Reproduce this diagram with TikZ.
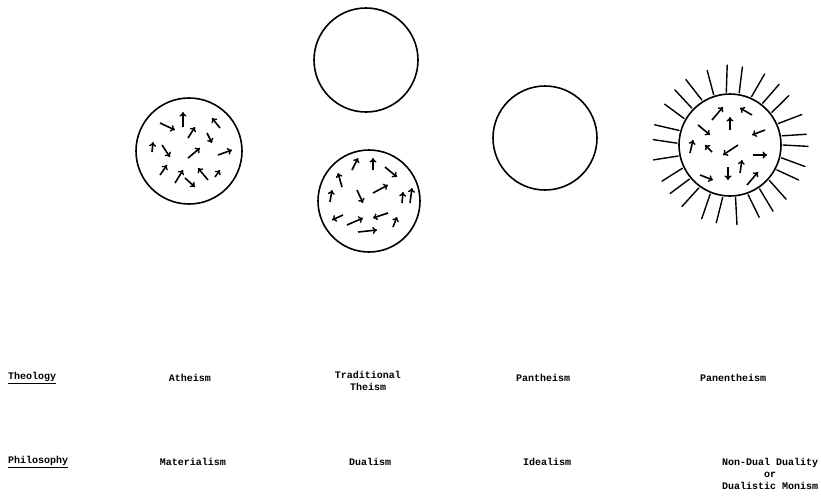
\documentclass[tikz,border=0pt]{standalone}
\usepackage{fontspec}
\setmonofont{Liberation Mono}
\usetikzlibrary{arrows.meta,calc}
\begin{document}
\begin{tikzpicture}[x=1pt,y=-1pt,
  ring/.style={draw=black,line width=1.6pt},
  arr/.style={line width=1.6pt,-{To[length=4.5pt,width=7pt,line width=1.4pt]}},
  ray/.style={line width=1.4pt,line cap=round},
  lbl/.style={font=\ttfamily\bfseries\fontsize{10}{12}\selectfont,align=center,inner sep=0pt},
  head/.style={lbl,anchor=west}]
\useasboundingbox (0,0) rectangle (821,499);
% circles
\node[ring,circle,minimum size=106pt,inner sep=0pt] (ath) at (189,151) {};
\node[ring,circle,minimum size=104pt,inner sep=0pt] (trtop) at (366,60) {};
\node[ring,circle,minimum size=102pt,inner sep=0pt] (trbot) at (369,201) {};
\node[ring,circle,minimum size=104pt,inner sep=0pt] (pan) at (545,138) {};
\node[ring,circle,minimum size=102pt,inner sep=0pt] (panen) at (730,145) {};
% atheism arrows
\foreach \a/\b/\c/\d in {160/123/175/130, 183/127/183/112, 220/128/212/118, 188/138/195/127,
  207/133/212/143, 152/152/153/142, 162/145/170/157, 188/158/200/148, 218/155/232/150,
  160/175/167/165, 175/183/183/170, 185/178/195/187, 208/180/198/168, 215/177/220/170}
  \draw[arr] (\a,\b) -- (\c,\d);
% dualism arrows
\foreach \a/\b/\c/\d in {352/170/358/158, 373/170/373/158, 385/167/397/177, 342/187/338/173,
  330/202/332/190, 357/190/363/203, 373/193/388/185, 402/203/403/192, 410/203/412/188,
  343/215/332/220, 347/225/363/218, 388/213/373/218, 358/232/377/230, 393/227/397/217}
  \draw[arr] (\a,\b) -- (\c,\d);
% panentheism arrows
\foreach \a/\b/\c/\d in {712/120/723/107, 730/130/730/117, 752/115/740/108, 698/125/710/135,
  765/130/752/135, 690/153/693/140, 712/152/705/145, 738/145/723/155, 753/155/767/155,
  700/175/713/180, 728/167/728/180, 740/173/742/160, 747/185/758/172}
  \draw[arr] (\a,\b) -- (\c,\d);
% rays
\foreach \ang/\len/\tw in {0/78/1, 14/78/2, 28/77/-1, 42/78/2, 56/79/1, 70/78/-2, 84/80/1,
  98/79/2, 112/79/-1, 126/78/2, 140/77/1, 154/77/-2, 168/78/1, 182/77/2,
  196/78/-1, 210/77/2, 224/78/1, 238/79/-2, 252/78/1, 266/80/2,
  280/79/-1, 294/79/2, 308/78/1, 322/77/-2, 336/78/1, 350/77/2}
  \draw[ray] ($(panen.center)+(\ang:53)$) -- ($(panen.center)+(\ang+\tw:\len)$);
% labels
\node[head] (theo) at (8,378) {\underline{Theology}};
\node[lbl] (l1) at (190,378) {Atheism};
\node[lbl] (l2) at (368,381) {Traditional\\Theism};
\node[lbl] (l3) at (543,378) {Pantheism};
\node[lbl] (l4) at (733,378) {Panentheism};
\node[head] (phil) at (8,462) {\underline{Philosophy}};
\node[lbl] (m1) at (193,462) {Materialism};
\node[lbl] (m2) at (370,462) {Dualism};
\node[lbl] (m3) at (547,462) {Idealism};
\node[lbl] (m4) at (770,474) {Non-Dual Duality\\or\\Dualistic Monism};
\end{tikzpicture}
\end{document}
